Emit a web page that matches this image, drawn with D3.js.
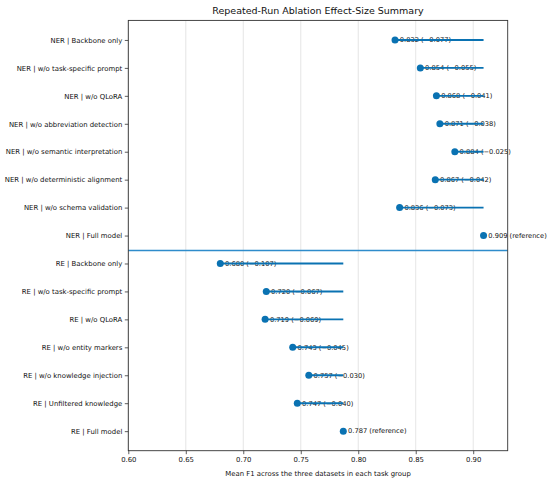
<!DOCTYPE html>
<html>
<head>
<meta charset="utf-8">
<script src="https://cdn.jsdelivr.net/npm/d3@7"></script>
<style>
  body { margin: 0; background: #fff; }
  svg { display: block; font-family: "DejaVu Sans", sans-serif; }
</style>
</head>
<body>
<svg id="chart" width="550" height="483"></svg>
<script>
const nerLabels = ["NER | Backbone only", "NER | w/o task-specific prompt", "NER | w/o QLoRA",
  "NER | w/o abbreviation detection", "NER | w/o semantic interpretation",
  "NER | w/o deterministic alignment", "NER | w/o schema validation", "NER | Full model"];
const nerF1 = [0.832, 0.854, 0.868, 0.871, 0.884, 0.867, 0.836, 0.909];
const nerDelta = [-0.077, -0.055, -0.041, -0.038, -0.025, -0.042, -0.073, null];

const reLabels = ["RE | Backbone only", "RE | w/o task-specific prompt", "RE | w/o QLoRA",
  "RE | w/o entity markers", "RE | w/o knowledge injection", "RE | Unfiltered knowledge", "RE | Full model"];
const reF1 = [0.680, 0.720, 0.719, 0.743, 0.757, 0.747, 0.787];
const reDelta = [-0.107, -0.067, -0.069, -0.045, -0.030, -0.040, null];

const xTicks = [0.60, 0.65, 0.70, 0.75, 0.80, 0.85, 0.90];

const rows = [];
nerLabels.forEach((l, i) => rows.push({ label: l, f1: nerF1[i], delta: nerDelta[i], ref: nerF1[nerF1.length - 1] }));
reLabels.forEach((l, i) => rows.push({ label: l, f1: reF1[i], delta: reDelta[i], ref: reF1[reF1.length - 1] }));

const svg = d3.select("#chart");
const margin = { left: 128.3, right: 42.3, top: 20.4, bottom: 32.3 };
const width = 550, height = 483;

const x = d3.scaleLinear().domain([0.60, 0.93]).range([margin.left, width - margin.right]);
const y = d3.scaleLinear().domain([-0.7, 14.7]).range([margin.top, height - margin.bottom]);

const blue = "#0a72b2";
const fmt = d3.format(".3f");
const minus = s => s.replace("-", "\u2212");

// grid
svg.append("g")
  .selectAll("line")
  .data(xTicks)
  .join("line")
  .attr("x1", d => x(d)).attr("x2", d => x(d))
  .attr("y1", margin.top).attr("y2", height - margin.bottom)
  .attr("stroke", "#e2e2e2")
  .attr("stroke-width", 0.9);

// value labels (under the lines)
svg.append("g")
  .selectAll("text")
  .data(rows)
  .join("text")
  .attr("x", d => x(d.f1) + 4.8)
  .attr("y", (d, i) => y(i))
  .attr("dy", "0.35em")
  .attr("font-size", 6.7)
  .attr("fill", "#111")
  .text(d => d.delta === null ? fmt(d.f1) + " (reference)" : fmt(d.f1) + " (" + minus(fmt(d.delta)) + ")");

// gap lines to reference
svg.append("g")
  .selectAll("line")
  .data(rows.filter(d => d.delta !== null))
  .join("line")
  .attr("x1", d => x(d.f1)).attr("x2", d => x(d.ref))
  .attr("y1", d => y(rows.indexOf(d))).attr("y2", d => y(rows.indexOf(d)))
  .attr("stroke", blue)
  .attr("stroke-width", 1.9);

// dots
svg.append("g")
  .selectAll("circle")
  .data(rows)
  .join("circle")
  .attr("cx", d => x(d.f1))
  .attr("cy", (d, i) => y(i))
  .attr("r", 3.5)
  .attr("fill", blue);

// separator between NER and RE
const sepY = Math.round(y(nerLabels.length - 0.5)) + 0.5;
svg.append("line")
  .attr("x1", margin.left).attr("x2", width - margin.right)
  .attr("y1", sepY).attr("y2", sepY)
  .attr("stroke", "#2e8ccb")
  .attr("stroke-width", 1.3);

// axes
const xAxis = svg.append("g")
  .attr("transform", `translate(0,${height - margin.bottom})`)
  .call(d3.axisBottom(x).tickValues(xTicks).tickFormat(d3.format(".2f")).tickSize(3.5).tickPadding(2.5));
const yAxis = svg.append("g")
  .attr("transform", `translate(${margin.left},0)`)
  .call(d3.axisLeft(y).tickValues(d3.range(rows.length)).tickFormat(i => rows[i].label).tickSize(3.5).tickPadding(2.5));

[xAxis, yAxis].forEach(g => {
  g.select(".domain").remove();
  g.selectAll("text").attr("font-family", "DejaVu Sans").attr("font-size", 6.9).attr("fill", "#111");
  g.selectAll(".tick line").attr("stroke", "#333").attr("stroke-width", 0.8);
});

// frame
svg.append("rect")
  .attr("x", margin.left).attr("y", margin.top)
  .attr("width", width - margin.left - margin.right)
  .attr("height", height - margin.top - margin.bottom)
  .attr("fill", "none")
  .attr("stroke", "#333")
  .attr("stroke-width", 0.9);

svg.append("text")
  .attr("x", (margin.left + width - margin.right) / 2)
  .attr("y", 14)
  .attr("text-anchor", "middle")
  .attr("font-size", 9.5)
  .attr("fill", "#111")
  .text("Repeated-Run Ablation Effect-Size Summary");

svg.append("text")
  .attr("x", (margin.left + width - margin.right) / 2)
  .attr("y", 476)
  .attr("text-anchor", "middle")
  .attr("font-size", 6.9)
  .attr("fill", "#111")
  .text("Mean F1 across the three datasets in each task group");
</script>
</body>
</html>
